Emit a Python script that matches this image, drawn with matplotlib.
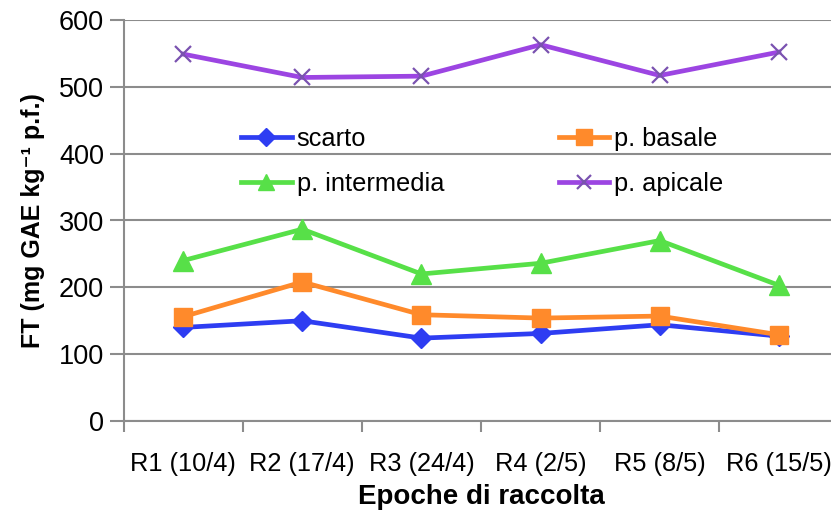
import matplotlib
matplotlib.use("Agg")
import matplotlib.pyplot as plt
from matplotlib.ticker import FixedLocator, NullFormatter

plt.rcParams['font.family'] = ['Liberation Sans', 'DejaVu Sans']

categories = ["R1 (10/4)", "R2 (17/4)", "R3 (24/4)", "R4 (2/5)", "R5 (8/5)", "R6 (15/5)"]
scarto = [140, 150, 124, 131, 144, 127]
basale = [156, 208, 159, 154, 157, 129]
intermedia = [240, 287, 220, 236, 270, 203]
apicale = [549, 514, 516, 563, 517, 552]
yticks = [0, 100, 200, 300, 400, 500, 600]

fig = plt.figure(figsize=(8.31, 5.11), dpi=100)
ax = fig.add_axes([123.5 / 831, 90 / 511, 715 / 831, 401 / 511])

x = list(range(len(categories)))
lw = 3.4
l1, = ax.plot(x, scarto, color="#2E3DF2", lw=lw, marker="D", ms=10.5,
              mec="#2E3DF2", mfc="#2E3DF2", label="scarto", zorder=3)
l2, = ax.plot(x, basale, color="#FF8A2B", lw=lw, marker="s", ms=13,
              mec="#FF8A2B", mfc="#FF8A2B", label="p. basale", zorder=4)
l3, = ax.plot(x, intermedia, color="#57E048", lw=lw, marker="^", ms=14,
              mec="#57E048", mfc="#57E048", label="p. intermedia", zorder=3)
l4, = ax.plot(x, apicale, color="#9C45E2", lw=lw, marker="x", ms=12,
              mec="#7A52B0", mew=1.6, label="p. apicale", zorder=3)

ax.set_xlim(-0.5, 5.5)
ax.set_ylim(0, 600)
ax.set_yticks(yticks)
ax.yaxis.grid(True, color="#8C8C8C", lw=1.5)
ax.set_axisbelow(True)

ax.set_xticks(x)
ax.set_xticklabels(categories)
ax.xaxis.set_minor_locator(FixedLocator([i - 0.5 for i in range(len(categories) + 1)]))
ax.xaxis.set_minor_formatter(NullFormatter())
ax.tick_params(axis="x", which="major", length=0, pad=22, labelsize=18.3)
ax.tick_params(axis="x", which="minor", length=8, width=1.5, color="#8C8C8C")
ax.tick_params(axis="y", length=10, width=1.5, color="#8C8C8C", labelsize=19.5, pad=4)

for side in ("top", "right"):
    ax.spines[side].set_visible(False)
for side in ("left", "bottom"):
    ax.spines[side].set_color("#8C8C8C")
    ax.spines[side].set_linewidth(1.5)

ax.set_xlabel("Epoche di raccolta", fontsize=20, fontweight="bold", labelpad=6)
ax.set_ylabel("FT (mg GAE kg\u207b\u00b9 p.f.)", fontsize=18, fontweight="bold", labelpad=10)

# two columns: scarto / p. basale on the first row, p. intermedia / p. apicale on the second
leg = ax.legend(handles=[l1, l3, l2, l4], ncol=2, frameon=False, fontsize=18.3,
                loc="upper left", bbox_to_anchor=(228 / 831, 1 - 114 / 511),
                bbox_transform=fig.transFigure, handlelength=2.0,
                handletextpad=0.2, columnspacing=4.5, labelspacing=0.85,
                borderpad=0, markerscale=0.85)

fig.savefig("out.png", dpi=100)
